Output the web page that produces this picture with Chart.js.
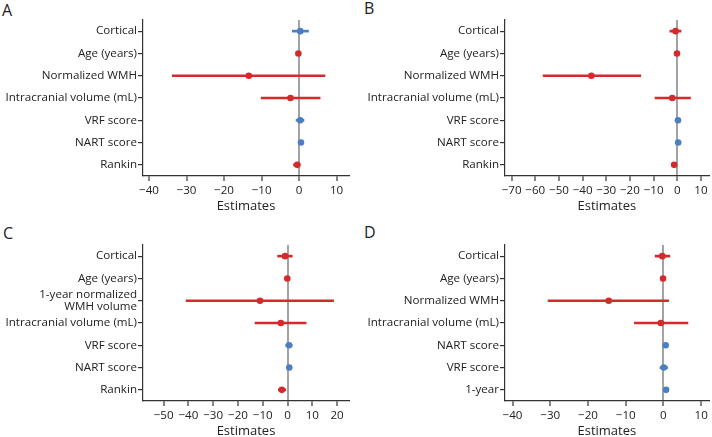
<!DOCTYPE html>
<html><head><meta charset="utf-8">
<script src="https://cdn.jsdelivr.net/npm/chart.js@4"></script>
<style>
html,body{margin:0;padding:0;background:#fff;overflow:hidden;width:712px;height:437px;position:relative;}
canvas{position:absolute;}
.letter{position:absolute;font-family:'Open Sans';font-size:16px;color:#222;line-height:16px;}
</style></head><body>
<div class="letter" style="left:2px;top:2px">A</div>
<div class="letter" style="left:364px;top:0px">B</div>
<div class="letter" style="left:3px;top:225px">C</div>
<div class="letter" style="left:364px;top:224px">D</div>
<canvas id="cA" width="356" height="215" style="left:0;top:0"></canvas>
<canvas id="cB" width="356" height="215" style="left:356px;top:0"></canvas>
<canvas id="cC" width="356" height="215" style="left:0;top:225px"></canvas>
<canvas id="cD" width="356" height="215" style="left:356px;top:225px"></canvas>
<script>
// ---- Data ----
const labelsA = ['Cortical','Age (years)','Normalized WMH','Intracranial volume (mL)','VRF score','NART score','Rankin'];
const estA  = [0.3, -0.2, -13.4, -2.3, 0.3, 0.5, -0.5];
const lowA  = [-1.8, -0.5, -33.8, -10.1, -0.8, 0.2, -1.5];
const highA = [2.5, 0.1, 6.9, 5.6, 1.3, 0.8, 0.3];

const labelsB = ['Cortical','Age (years)','Normalized WMH','Intracranial volume (mL)','VRF score','NART score','Rankin'];
const estB  = [-0.7, -0.1, -36.3, -2.1, 0.3, 0.4, -1.3];
const lowB  = [-3.1, -0.4, -56.7, -9.4, 0.0, 0.1, -1.8];
const highB = [1.6, 0.2, -15.4, 5.6, 0.6, 0.7, -0.7];

const labelsC = ['Cortical','Age (years)',['1-year normalized','WMH volume'],'Intracranial volume (mL)','VRF score','NART score','Rankin'];
const estC  = [-1.0, -0.1, -11.1, -2.7, 0.6, 0.7, -2.3];
const lowC  = [-4.0, -0.4, -40.9, -13.1, -0.7, 0.4, -3.7];
const highC = [1.9, 0.2, 18.6, 7.5, 1.9, 1.0, -0.7];

const labelsD = ['Cortical','Age (years)','Normalized WMH','Intracranial volume (mL)','NART score','VRF score','1-year'];
const estD  = [-0.3, -0.1, -14.5, -0.7, 0.6, 0.1, 0.7];
const lowD  = [-2.2, -0.4, -30.6, -7.7, 0.3, -0.9, 0.4];
const highD = [1.7, 0.2, 1.4, 6.5, 0.9, 1.1, 1.0];

const xRangeA = [-41.6, 13.3];
const xRangeB = [-72.8, 13.3];
const xRangeC = [-58.3, 24.8];
const xRangeD = [-42.0, 12.0];

// ---- Styles ----
const RED = '#d42a2c';
const BLUE = '#4b7fc1';
Chart.defaults.font.family = "'Open Sans', sans-serif";
Chart.defaults.color = '#222';

function makeChart(id, labels, est, low, high, range, yW, padR) {
  const colors = est.map(v => v < 0 ? RED : BLUE);
  new Chart(document.getElementById(id), {
    type: 'bar',
    data: {
      labels: labels,
      datasets: [
        { type: 'line', data: est, showLine: false, pointRadius: 3.3, pointHoverRadius: 3.3,
          pointBackgroundColor: colors, pointBorderWidth: 0, order: 0 },
        { type: 'bar', data: low.map((l, i) => [l, high[i]]), backgroundColor: colors,
          barThickness: 2, borderWidth: 0, order: 1 }
      ]
    },
    options: {
      indexAxis: 'y', responsive: false, animation: false,
      layout: { padding: { top: 20, right: padR, bottom: 2.5, left: 0 } },
      plugins: { legend: { display: false }, tooltip: { enabled: false } },
      scales: {
        x: {
          type: 'linear', min: range[0], max: range[1],
          afterFit: s => { s.height = 36.5; },
          grid: {
            color: c => (c.tick && c.tick.value === 0) ? '#a3a3a3' : 'rgba(0,0,0,0)',
            lineWidth: 2, tickColor: '#333', tickWidth: 1.2, tickLength: 5, drawOnChartArea: true
          },
          border: { color: '#333', width: 1.2 },
          ticks: { stepSize: 10, includeBounds: false, autoSkip: false, maxRotation: 0, padding: 3,
                   color: '#222', font: { size: 11.6 },
                   callback: v => String(v).replace('-', '\u2212') },
          title: { display: true, text: 'Estimates', color: '#222', font: { size: 13, lineHeight: 1 },
                   padding: { top: 0, bottom: 0 } }
        },
        y: {
          afterFit: s => { s.width = yW; },
          offset: true,
          grid: { drawOnChartArea: false, offset: false, tickLength: 5, color: '#333', lineWidth: 1.2 },
          border: { color: '#333', width: 1.2 },
          ticks: { autoSkip: false, padding: 1, color: '#222', font: { size: 11.6, lineHeight: 0.98 } }
        }
      }
    }
  });
}

makeChart('cA', labelsA, estA, lowA, highA, xRangeA, 143, 7);
makeChart('cB', labelsB, estB, lowB, highB, xRangeB, 149, 2);
makeChart('cC', labelsC, estC, lowC, highC, xRangeC, 143, 7);
makeChart('cD', labelsD, estD, lowD, highD, xRangeD, 149, 2);
</script>
</body></html>
